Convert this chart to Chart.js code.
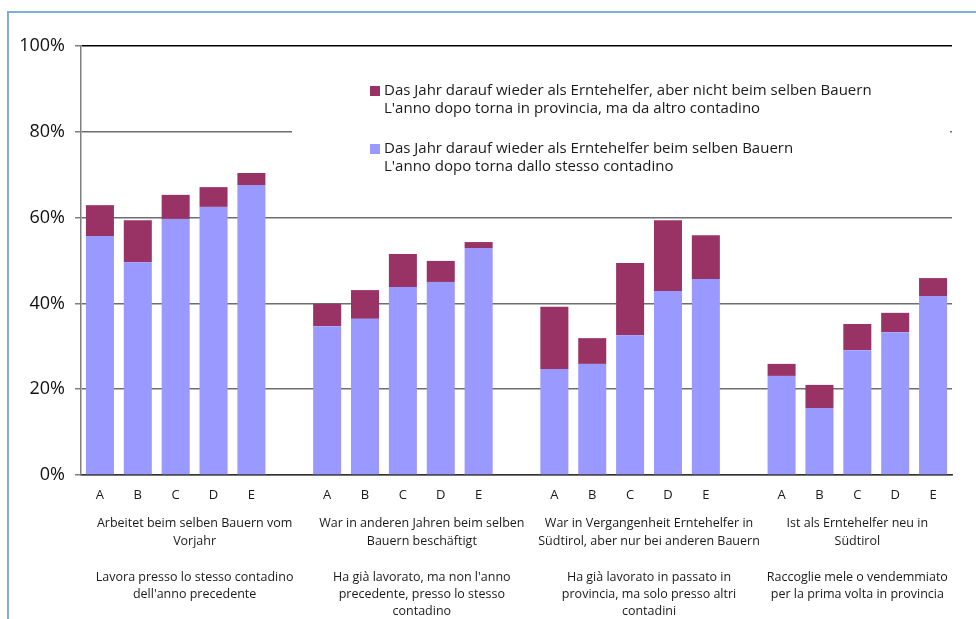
<!DOCTYPE html>
<html>
<head>
<meta charset="utf-8">
<script src="https://cdn.jsdelivr.net/npm/chart.js@4/dist/chart.umd.min.js"></script>
<style>
  html, body { margin: 0; padding: 0; background: #fff; }
  #wrap { position: relative; width: 976px; height: 619px; }
  #frame { position: absolute; left: 7px; top: 11px; right: -10px; bottom: -10px;
           border-top: 2px solid #7eaedb; border-left: 2px solid #7eaedb; pointer-events: none; }
</style>
</head>
<body>
<div id="wrap">
  <canvas id="c" width="976" height="619"></canvas>
  <div id="frame"></div>
</div>
<script>
// ---- data ----
const categories = ['A','B','C','D','E','', 'A','B','C','D','E','', 'A','B','C','D','E','', 'A','B','C','D','E'];
const sameFarmer  = [55.7,49.6,59.7,62.5,67.6,null, 34.7,36.4,43.8,45.0,52.9,null, 24.7,25.9,32.6,42.9,45.7,null, 23.1,15.6,29.1,33.3,41.7];
const otherFarmer = [7.2,9.8,5.6,4.6,2.8,null, 5.2,6.7,7.7,4.9,1.4,null, 14.5,6.0,16.8,16.5,10.2,null, 2.8,5.4,6.1,4.5,4.2];
const yTicks = [0,20,40,60,80,100];
const seriesOtherLabel = ['Das Jahr darauf wieder als Erntehelfer, aber nicht beim selben Bauern', "L'anno dopo torna in provincia, ma da altro contadino"];
const seriesSameLabel  = ['Das Jahr darauf wieder als Erntehelfer beim selben Bauern', "L'anno dopo torna dallo stesso contadino"];
const groupRanges = [[0,5],[6,11],[12,17],[18,22]];
const groupLabelsDe = [
  ['Arbeitet beim selben Bauern vom', 'Vorjahr'],
  ['War in anderen Jahren beim selben', 'Bauern beschäftigt'],
  ['War in Vergangenheit Erntehelfer in', 'Südtirol, aber nur bei anderen Bauern'],
  ['Ist als Erntehelfer neu in', 'Südtirol']
];
const groupLabelsIt = [
  ['Lavora presso lo stesso contadino', "dell'anno precedente"],
  ["Ha già lavorato, ma non l'anno", 'precedente, presso lo stesso', 'contadino'],
  ['Ha già lavorato in passato in', 'provincia, ma solo presso altri', 'contadini'],
  ['Raccoglie mele o vendemmiato', 'per la prima volta in provincia']
];

const COL_SAME = '#9999ff';
const COL_OTHER = '#993366';
const FONT = '"Open Sans", "Liberation Sans", sans-serif';

const overlayPlugin = {
  id: 'overlay',
  afterDraw(chart) {
    const ctx = chart.ctx;
    const x = chart.scales.x;
    ctx.save();
    // legend box (covers gridline)
    ctx.fillStyle = '#fff';
    ctx.fillRect(292, 62, 658, 135);
    ctx.font = '15px ' + FONT;
    ctx.textBaseline = 'middle';
    ctx.textAlign = 'left';
    const entries = [[COL_OTHER, seriesOtherLabel, 91], [COL_SAME, seriesSameLabel, 149]];
    entries.forEach(([col, lines, y0]) => {
      ctx.fillStyle = col;
      ctx.fillRect(370, y0 - 5, 10, 10);
      ctx.fillStyle = '#1a1a1a';
      lines.forEach((t, i) => ctx.fillText(t, 384, y0 + i * 17.5));
    });
    // group labels
    ctx.font = '12.5px ' + FONT;
    ctx.textAlign = 'center';
    ctx.fillStyle = '#1a1a1a';
    groupRanges.forEach(([a, b], g) => {
      const cx = (x.getPixelForValue(a) + x.getPixelForValue(b)) / 2;
      groupLabelsDe[g].forEach((t, i) => ctx.fillText(t, cx, 523 + i * 18));
      groupLabelsIt[g].forEach((t, i) => ctx.fillText(t, cx, 577 + i * 17));
    });
    ctx.restore();
  }
};

new Chart(document.getElementById('c'), {
  type: 'bar',
  data: {
    labels: categories,
    datasets: [
      { label: seriesSameLabel.join(' / '), data: sameFarmer, backgroundColor: COL_SAME, borderWidth: 0 },
      { label: seriesOtherLabel.join(' / '), data: otherFarmer, backgroundColor: COL_OTHER, borderWidth: 0 }
    ]
  },
  options: {
    responsive: false,
    animation: false,
    devicePixelRatio: 1,
    layout: { padding: { left: 0, top: 46, right: 24, bottom: 0 } },
    datasets: { bar: { categoryPercentage: 1, barPercentage: 0.74 } },
    plugins: { legend: { display: false }, tooltip: { enabled: false } },
    scales: {
      x: {
        stacked: true,
        afterFit(s) { s.height = 144; },
        grid: { display: false, drawTicks: false },
        border: { color: '#333', width: 1.5 },
        ticks: { padding: 12, color: '#1a1a1a', font: { family: FONT, size: 13 }, autoSkip: false, maxRotation: 0 }
      },
      y: {
        stacked: true,
        min: 0, max: 100,
        afterFit(s) { s.width = 81; },
        afterBuildTicks(s) { s.ticks = yTicks.map(v => ({ value: v })); },
        grid: {
          color: ctx => ctx.tick && ctx.tick.value === 100 ? '#000' : '#6e6e6e',
          lineWidth: 1.5,
          tickLength: 6,
          tickColor: '#808080'
        },
        border: { color: '#808080', width: 1.5 },
        ticks: { padding: 10, color: '#111', font: { family: FONT, size: 18 }, callback: v => v + '%' }
      }
    }
  },
  plugins: [overlayPlugin]
});
</script>
</body>
</html>
